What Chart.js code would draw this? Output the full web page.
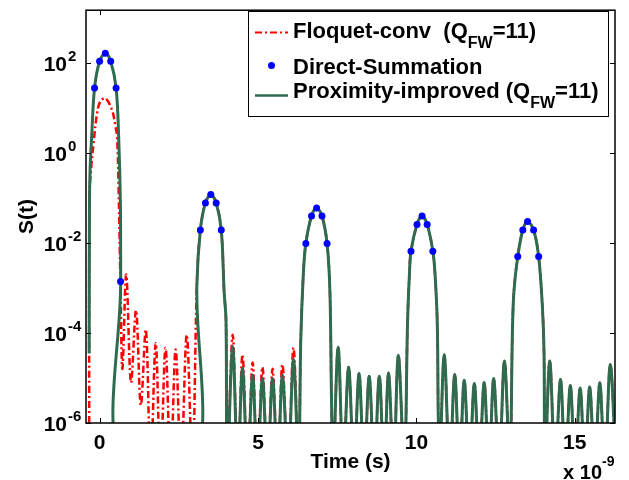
<!DOCTYPE html>
<html>
<head>
<meta charset="utf-8">
<title>S(t)</title>
<script src="https://cdn.jsdelivr.net/npm/chart.js@4.4.0/dist/chart.umd.min.js"></script>
<style>
body { margin: 0; background: #fff; }
canvas { display: block; }
</style>
</head>
<body>
<canvas id="myChart" width="629" height="480"></canvas>
<script>
// Axis ticks (time in units of 1e-9 s)
var xTicks = [0, 5, 10, 15];
var yTicks = [1e-6, 1e-4, 1e-2, 1, 1e2];
var yTickExp = ['-6', '-4', '-2', '0', '2'];

// Direct-Summation samples
var directTime = [-0.16, 0.0, 0.18, 0.35, 0.52, 0.66,
    3.18, 3.34, 3.51, 3.68, 3.84,
    6.51, 6.69, 6.85, 7.02, 7.18,
    9.83, 10.02, 10.18, 10.34, 10.52,
    13.20, 13.36, 13.51, 13.70, 13.86];
var directS = [28, 110, 166, 110, 28, 1.4e-3,
    0.0195, 0.078, 0.12, 0.078, 0.0195,
    9.8e-3, 0.04, 0.06, 0.04, 9.8e-3,
    6.6e-3, 0.026, 0.04, 0.026, 6.6e-3,
    5.0e-3, 0.0195, 0.030, 0.0195, 5.0e-3];

// Floquet-conv, first two pulses
var floquetTime = [-0.33, -0.32, -0.27, -0.19, -0.08, 0.02, 0.18, 0.39, 0.50, 0.55, 0.60, 0.66,
    0.72, 0.84, 0.99, 1.15, 1.30, 1.46, 1.61, 1.77, 1.92, 2.08, 2.24, 2.40, 2.57, 2.75, 2.93,
    3.07, 3.18, 3.34, 3.51, 3.68, 3.84, 3.93, 3.99, 4.03,
    4.20, 4.36, 4.51, 4.67, 4.83, 4.98, 5.14, 5.30, 5.46, 5.62, 5.77, 5.95, 6.12];
var floquetS = [1e-7, 0.115, 0.44, 1.7, 7.8, 14, 16.6, 9.1, 4.0, 2.4, 0.16, 1e-3,
    1.6e-5, 2.0e-3, 7.9e-6, 3.2e-4, 2.5e-6, 1.17e-4, 1e-7, 5.9e-5, 1e-7, 4.7e-5, 1e-7, 4.3e-5, 1e-7, 9.1e-5, 1e-7,
    1.2e-3, 0.0195, 0.078, 0.12, 0.078, 0.0195, 8.5e-4, 1.9e-4, 1e-7,
    9.1e-5, 1e-7, 3.3e-5, 1e-7, 2.2e-5, 1e-7, 1.74e-5, 1e-7, 1.6e-5, 1e-7, 2.0e-5, 1e-7, 4.7e-5];

// Proximity-improved, first two pulses
var proxTime = [-0.33, -0.32, -0.30, -0.25, -0.16, 0.0, 0.18, 0.35, 0.52, 0.60, 0.655, 0.665, 0.68,
    2.98, 3.07, 3.18, 3.34, 3.51, 3.68, 3.84, 3.93, 3.99, 4.03,
    4.20, 4.36, 4.51, 4.67, 4.83, 4.98, 5.14, 5.30, 5.46, 5.62, 5.77, 5.95, 6.12];
var proxS = [3.5e-5, 0.08, 0.45, 2.4, 28, 110, 166, 110, 28, 2.4, 0.08, 1.4e-3, 1e-7,
    1e-7, 1.2e-3, 0.0195, 0.078, 0.12, 0.078, 0.0195, 8.5e-4, 1.9e-4, 1e-7,
    5.0e-5, 1e-7, 1.66e-5, 1e-7, 1.15e-5, 1e-7, 9.8e-6, 1e-7, 9.8e-6, 1e-7, 1.15e-5, 1e-7, 2.6e-5];

// From the third pulse on both curves lie on top of each other
var commonTime = [6.28, 6.35, 6.43, 6.51, 6.69, 6.85, 7.02, 7.18, 7.27, 7.32, 7.37,
    7.53, 7.69, 7.86, 8.03, 8.19, 8.35, 8.51, 8.67, 8.83, 8.98, 9.12, 9.28, 9.43, 9.62,
    9.72, 9.78, 9.83, 10.02, 10.18, 10.34, 10.52, 10.59, 10.66, 10.69, 10.73,
    10.88, 11.05, 11.21, 11.36, 11.51, 11.67, 11.83, 11.98, 12.14, 12.29, 12.44, 12.61, 12.78, 12.95,
    13.03, 13.08, 13.20, 13.36, 13.51, 13.70, 13.86, 13.98, 14.03, 14.06,
    14.21, 14.38, 14.55, 14.70, 14.86, 15.01, 15.17, 15.32, 15.47, 15.63, 15.79, 15.95, 16.12, 16.30];
var commonS = [1e-7, 6.8e-5, 2.0e-3, 9.8e-3, 0.04, 0.06, 0.04, 9.8e-3, 8.5e-4, 3.6e-6, 1e-7,
    4.8e-5, 1e-7, 1.74e-5, 1e-7, 1.26e-5, 1e-7, 1.1e-5, 1e-7, 1.1e-5, 1e-7, 1.3e-5, 1e-7, 3.2e-5, 1e-7,
    1.6e-4, 2.0e-3, 6.6e-3, 0.026, 0.04, 0.026, 6.6e-3, 2.0e-3, 1.6e-4, 1.5e-6, 1e-7,
    3.3e-5, 1e-7, 1.2e-5, 1e-7, 8.9e-6, 1e-7, 7.6e-6, 1e-7, 7.9e-6, 1e-7, 9.8e-6, 1e-7, 2.4e-5, 1e-7,
    9.5e-5, 8.5e-4, 5.0e-3, 0.0195, 0.030, 0.0195, 5.0e-3, 3.6e-4, 3.5e-5, 1e-7,
    2.4e-5, 1e-7, 9.3e-6, 1e-7, 6.8e-6, 1e-7, 6.0e-6, 1e-7, 6.3e-6, 1e-7, 7.8e-6, 1e-7, 2.0e-5, 1e-7];

var RED = '#ff0000';
var GREEN = '#2f6b4f';
var BLUE = '#0000ff';
var FONT_FAMILY = '"Liberation Sans", Arial, Helvetica, sans-serif';

function toPoints(ts, vs) {
    return ts.map(function (t, i) { return { x: t, y: vs[i] }; });
}

// draws box, inward ticks, y labels with exponents, the x10^-9 note and the legend
var matlabLook = {
    id: 'matlabLook',
    afterDraw: function (chart) {
        var ctx = chart.ctx;
        var a = chart.chartArea;
        var xs = chart.scales.x;
        var ys = chart.scales.y;
        ctx.save();

        // axes box
        ctx.strokeStyle = '#000';
        ctx.lineWidth = 1.5;
        ctx.strokeRect(a.left, a.top, a.right - a.left, a.bottom - a.top);

        // tick marks, pointing in
        ctx.lineWidth = 1;
        ctx.beginPath();
        xTicks.forEach(function (v) {
            var px = Math.round(xs.getPixelForValue(v)) + 0.5;
            ctx.moveTo(px, a.bottom); ctx.lineTo(px, a.bottom - 5);
            ctx.moveTo(px, a.top); ctx.lineTo(px, a.top + 5);
        });
        yTicks.forEach(function (v) {
            var py = Math.round(ys.getPixelForValue(v)) + 0.5;
            ctx.moveTo(a.left, py); ctx.lineTo(a.left + 5, py);
            ctx.moveTo(a.right, py); ctx.lineTo(a.right - 5, py);
        });
        ctx.stroke();

        // y tick labels: 10 with exponent
        ctx.fillStyle = '#000';
        ctx.textBaseline = 'alphabetic';
        yTicks.forEach(function (v, i) {
            var py = ys.getPixelForValue(v);
            ctx.font = 'bold 21px ' + FONT_FAMILY;
            ctx.textAlign = 'right';
            ctx.fillText('10', a.left - 19, py + 7.5);
            ctx.font = 'bold 15px ' + FONT_FAMILY;
            ctx.textAlign = 'left';
            ctx.fillText(yTickExp[i], a.left - 18, py - 2);
        });

        // x multiplier
        ctx.font = 'bold 20px ' + FONT_FAMILY;
        ctx.textAlign = 'right';
        ctx.fillText('x 10', 602, 479);
        ctx.font = 'bold 14px ' + FONT_FAMILY;
        ctx.textAlign = 'left';
        ctx.fillText('-9', 602, 466);

        // legend
        var lx = 248.5, ly = 11.5, lw = 360, lh = 105;
        ctx.fillStyle = '#fff';
        ctx.fillRect(lx, ly, lw, lh);
        ctx.strokeStyle = '#000';
        ctx.lineWidth = 1;
        ctx.strokeRect(lx, ly, lw, lh);

        ctx.lineWidth = 2.2;
        ctx.strokeStyle = RED;
        ctx.setLineDash([7, 3, 2, 3]);
        ctx.beginPath();
        ctx.moveTo(255, 32.5); ctx.lineTo(288, 32.5);
        ctx.stroke();
        ctx.setLineDash([]);

        ctx.fillStyle = BLUE;
        ctx.beginPath();
        ctx.arc(271.5, 65.5, 3.5, 0, Math.PI * 2);
        ctx.fill();

        ctx.strokeStyle = GREEN;
        ctx.lineWidth = 2.5;
        ctx.beginPath();
        ctx.moveTo(255, 95.5); ctx.lineTo(288, 95.5);
        ctx.stroke();

        ctx.fillStyle = '#000';
        ctx.textAlign = 'left';
        function withSub(pre, sub, post, x, y) {
            ctx.font = 'bold 22px ' + FONT_FAMILY;
            ctx.fillText(pre, x, y);
            x += ctx.measureText(pre).width;
            ctx.font = 'bold 16px ' + FONT_FAMILY;
            ctx.fillText(sub, x, y + 10);
            x += ctx.measureText(sub).width;
            ctx.font = 'bold 22px ' + FONT_FAMILY;
            ctx.fillText(post, x, y);
        }
        withSub('Floquet-conv  (Q', 'FW', '=11)', 293, 37.5);
        ctx.font = 'bold 22px ' + FONT_FAMILY;
        ctx.fillText('Direct-Summation', 293, 74);
        withSub('Proximity-improved (Q', 'FW', '=11)', 293, 98);

        ctx.restore();
    }
};

var ctx = document.getElementById('myChart').getContext('2d');
var myChart = new Chart(ctx, {
    type: 'line',
    data: {
        datasets: [{
            label: 'Direct-Summation',
            data: toPoints(directTime, directS),
            showLine: false,
            pointRadius: 3.5,
            pointBackgroundColor: BLUE,
            pointBorderColor: BLUE,
            pointBorderWidth: 0,
            order: 0
        }, {
            label: 'Proximity-improved (QFW=11)',
            data: toPoints(proxTime.concat(commonTime), proxS.concat(commonS)),
            borderColor: GREEN,
            borderWidth: 3,
            pointRadius: 0,
            tension: 0.35,
            order: 1
        }, {
            label: 'Floquet-conv  (QFW=11)',
            data: toPoints(floquetTime.concat(commonTime), floquetS.concat(commonS)),
            borderColor: RED,
            borderWidth: 2.5,
            borderDash: [7, 3, 2, 3],
            pointRadius: 0,
            tension: 0.35,
            order: 2
        }]
    },
    options: {
        responsive: false,
        animation: false,
        devicePixelRatio: 1,
        layout: { padding: { top: 6, right: 14, left: 0, bottom: 0 } },
        elements: {
            line: { capBezierPoints: false, borderJoinStyle: 'round' }
        },
        plugins: {
            legend: { display: false },
            tooltip: { enabled: false }
        },
        scales: {
            x: {
                type: 'linear',
                min: -0.43,
                max: 16.27,
                afterBuildTicks: function (scale) {
                    scale.ticks = xTicks.map(function (v) { return { value: v }; });
                },
                afterFit: function (scale) { scale.height = 57; },
                grid: { display: false, drawTicks: false },
                border: { display: false },
                ticks: {
                    color: '#000',
                    padding: 8,
                    maxRotation: 0,
                    font: { family: FONT_FAMILY, size: 21, weight: 'bold' }
                },
                title: {
                    display: true,
                    text: 'Time (s)',
                    color: '#000',
                    padding: { top: 0, bottom: 5 },
                    font: { family: FONT_FAMILY, size: 21, weight: 'bold' }
                }
            },
            y: {
                type: 'logarithmic',
                min: 1e-6,
                max: 1.5e3,
                afterBuildTicks: function (scale) {
                    scale.ticks = yTicks.map(function (v) { return { value: v }; });
                },
                afterFit: function (scale) { scale.width = 86; },
                grid: { display: false, drawTicks: false },
                border: { display: false },
                ticks: {
                    callback: function () { return ''; }
                },
                title: {
                    display: true,
                    text: 'S(t)',
                    color: '#000',
                    padding: { top: 15, bottom: 0 },
                    font: { family: FONT_FAMILY, size: 21, weight: 'bold' }
                }
            }
        }
    },
    plugins: [matlabLook]
});
</script>
</body>
</html>
